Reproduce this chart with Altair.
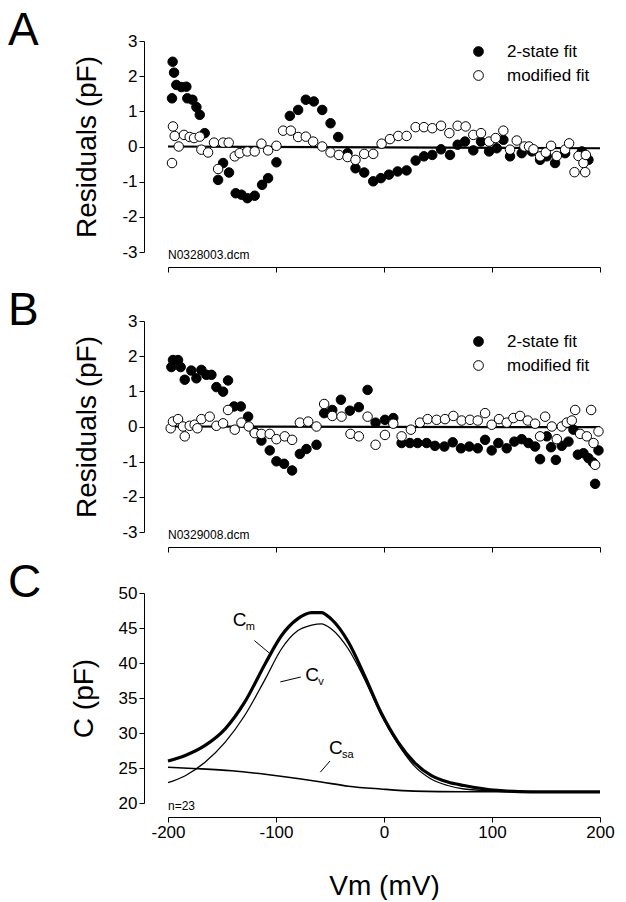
import pandas as pd
import altair as alt

FONT = "Liberation Sans"

# Panel A residuals (mV, pF)
a_fit2_v = [-196.3, -195.7, -194.4, -192.3, -187.6, -183.0, -182.1, -177.4, -173.7, -170.6, -166.0,
            -153.6, -149.0, -143.5, -137.3, -132.0, -126.5, -119.7, -112.9, -107.3, -99.6, -87.2,
            -79.5, -72.4, -65.0, -57.2, -49.5, -42.4, -33.8, -26.4, -18.3, -10.0, -2.9, 4.6, 12.6,
            20.9, 29.3, 37.0, 44.7, 52.8, 61.1, 68.2, 75.0, 82.7, 89.8, 97.3, 104.4, 110.5, 116.7,
            127.5, 136.8, 144.5, 150.7, 158.4, 167.7, 183.2, 189.3]
a_fit2_r = [1.37, 2.41, 2.10, 1.75, 1.69, 1.70, 1.37, 1.33, 1.12, 0.90, 0.38,
            -0.95, -0.47, -0.74, -1.33, -1.37, -1.47, -1.40, -1.09, -0.90, -0.45, 0.87,
            1.04, 1.33, 1.28, 1.04, 0.66, 0.27, -0.19, -0.62, -0.74, -0.99, -0.90, -0.80, -0.71,
            -0.68, -0.40, -0.28, -0.24, -0.08, -0.24, 0.05, 0.14, -0.11, 0.14, -0.14, -0.05, 0.19, -0.28,
            -0.19, -0.14, -0.38, -0.28, -0.47, -0.19, -0.14, -0.38]
a_mod_v = [-196.3, -195.4, -193.8, -190.1, -185.2, -179.9, -175.9, -170.6, -169.1, -162.9, -157.4,
           -153.6, -149.0, -143.8, -138.2, -133.6, -126.5, -119.7, -113.5, -107.3, -99.6, -93.4,
           -86.3, -79.5, -72.4, -65.6, -57.2, -49.5, -41.8, -33.8, -26.4, -18.3, -10.0, -2.2, 5.5,
           13.2, 20.9, 29.3, 37.0, 44.7, 52.8, 60.5, 68.2, 75.6, 82.7, 89.8, 97.3, 103.4, 110.5,
           116.7, 122.9, 130.0, 134.3, 138.4, 144.5, 149.8, 154.7, 160.0, 167.7, 171.4, 176.4,
           180.1, 184.7, 186.3, 186.9]
a_mod_r = [-0.47, 0.57, 0.30, 0.00, 0.33, 0.27, 0.24, 0.28, -0.09, -0.17, 0.11,
           -0.64, 0.11, 0.11, -0.28, -0.19, -0.14, -0.14, 0.08, -0.11, 0.02, 0.45,
           0.45, 0.27, 0.28, 0.14, 0.00, -0.17, -0.24, -0.30, -0.38, -0.21, -0.21, 0.08, 0.21,
           0.30, 0.30, 0.55, 0.55, 0.52, 0.59, 0.38, 0.59, 0.57, 0.33, 0.38, 0.14, 0.24, 0.45,
           -0.09, 0.17, 0.00, 0.00, -0.08, -0.28, -0.17, 0.02, -0.27, -0.09, 0.09, -0.73,
           -0.27, -0.47, -0.73, -0.24]

# Panel B residuals
b_fit2_v = [-196.9, -195.4, -190.7, -188.3, -184.5, -178.4, -173.7, -169.1, -164.5, -159.8, -155.2,
            -149.0, -144.4, -138.8, -132.6, -125.8, -119.7, -113.5, -105.8, -99.6, -92.5, -85.1,
            -77.9, -71.8, -62.5, -55.4, -47.9, -39.9, -31.6, -23.3, -15.2, -7.8, 0.9, 8.6, 16.3,
            24.0, 31.1, 39.5, 47.2, 55.9, 63.6, 71.3, 79.0, 86.8, 93.6, 99.7, 105.9, 113.6, 120.7,
            127.5, 133.7, 139.9, 144.5, 150.7, 154.7, 159.1, 164.6, 170.8, 175.4, 179.5, 184.7,
            189.3, 193.4, 198.6, 195.5]
b_fit2_r = [1.69, 1.89, 1.89, 1.69, 1.33, 1.59, 1.37, 1.61, 1.47, 1.47, 1.12,
            0.99, 1.31, 0.57, 0.57, 0.28, -0.17, -0.40, -0.68, -0.99, -1.06, -1.25,
            -0.78, -0.64, -0.52, 0.38, 0.47, 0.76, 0.45, 0.55, 1.04, 0.11, 0.19, 0.24, -0.47,
            -0.47, -0.47, -0.47, -0.55, -0.57, -0.45, -0.62, -0.57, -0.62, -0.38, -0.68, -0.47, -0.62, -0.43,
            -0.36, -0.47, -0.57, -0.93, -0.28, -0.59, -0.95, -0.55, -0.43, -0.09, -0.80, -0.76,
            -0.90, -1.02, -0.68, -1.63]
b_mod_v = [-197.5, -195.4, -190.7, -186.1, -184.5, -179.9, -175.3, -172.8, -169.1, -161.4, -155.2,
           -149.0, -144.4, -138.2, -132.0, -125.2, -119.7, -113.5, -105.8, -99.6, -91.9, -85.1,
           -77.9, -70.2, -62.5, -55.4, -47.9, -39.3, -31.0, -23.3, -15.2, -7.8, 0.9, 8.6, 16.3,
           24.9, 33.3, 40.4, 48.7, 56.5, 64.2, 71.9, 79.6, 86.8, 93.6, 99.7, 106.5, 113.6, 119.8,
           126.0, 133.1, 139.9, 144.5, 149.2, 155.4, 160.0, 164.6, 169.3, 173.9, 177.0, 181.6,
           187.8, 191.8, 194.0, 195.5, 198.6]
b_mod_r = [-0.05, 0.14, 0.21, 0.00, -0.28, 0.02, 0.05, -0.05, 0.21, 0.28, 0.02,
           0.09, 0.47, -0.09, 0.11, 0.00, -0.19, -0.21, -0.21, -0.36, -0.28, -0.38,
           0.11, 0.14, 0.00, 0.64, 0.30, 0.28, -0.21, -0.28, 0.28, -0.52, -0.24, 0.08, -0.28,
           -0.09, 0.11, 0.21, 0.19, 0.21, 0.30, 0.17, 0.19, 0.17, 0.38, 0.05, 0.21, 0.11, 0.24,
           0.30, 0.17, 0.08, -0.28, 0.28, 0.00, -0.36, 0.00, 0.11, 0.17, 0.47, -0.21,
           -0.28, 0.47, -0.47, -1.09, -0.14]

zero_v = [-200, 200]
a_zero = [0.0, -0.05]
b_zero = [0.0, -0.02]

# Panel C capacitance curves
c_v = [-200, -184, -166, -147, -129, -110, -95, -80, -67, -58, -49, -33, -18, -3, 13, 28, 44, 59,
       74, 105, 136, 167, 200]
c_m = [26.0, 26.8, 28.2, 30.6, 34.4, 39.9, 43.9, 46.3, 47.2, 47.2, 46.3, 43.0, 38.2, 33.0, 28.7,
       25.8, 23.9, 23.0, 22.5, 21.8, 21.6, 21.6, 21.6]
c_vv = [22.9, 23.9, 25.8, 28.7, 32.5, 37.7, 42.0, 44.6, 45.4, 45.6, 44.9, 42.0, 37.7, 32.7, 28.4,
        25.3, 23.4, 22.5, 22.0, 21.7, 21.6, 21.6, 21.6]
csa_v = [-200, -172, -141, -110, -80, -58, -33, -3, 28, 74, 136, 200]
csa = [25.1, 24.9, 24.6, 24.1, 23.5, 23.0, 22.4, 22.0, 21.7, 21.6, 21.6, 21.6]

labels = ["C", "C", "C"]
subs = ["m", "v", "sa"]
label_v = [-140, -73, -51]
label_c = [45.3, 37.4, 27.0]
# leader lines: start and end of each
lead_id = ["m", "m", "v", "v", "sa", "sa"]
lead_v = [-120, -106, -96, -77, -59, -50]
lead_c = [43.2, 41.4, 37.3, 38.0, 24.4, 26.0]

series = ["2-state fit", "modified fit"]

AXIS = dict(tickSize=5, grid=False, labelFontSize=17, titleFontSize=28, titleFontWeight="normal",
            domainColor="black", tickColor="black", labelOverlap=False, labelFlush=False,
            labelExpr="'' + datum.value")

X = alt.X("v:Q", title=None, scale=alt.Scale(domain=[-200, 200], nice=False, zero=False),
          axis=alt.Axis(values=[-200, -100, 0, 100, 200], labels=False, offset=15, tickSize=5,
                        domainColor="black", tickColor="black", grid=False))


def letter_mark(letter):
    return alt.Chart(pd.DataFrame({"t": [letter]})).mark_text(
        align="left", baseline="top", fontSize=46, font=FONT).encode(
        x=alt.value(-160), y=alt.value(-32), text="t:N")


def residual_panel(letter, fname, f2v, f2r, mv, mr, zline, legend_y):
    df = pd.concat([
        pd.DataFrame({"v": f2v, "r": f2r, "s": series[0]}),
        pd.DataFrame({"v": mv, "r": mr, "s": series[1]}),
    ])
    y = alt.Y("r:Q", title="Residuals (pF)", scale=alt.Scale(domain=[-3, 3], nice=False),
              axis=alt.Axis(values=[-3, -2, -1, 0, 1, 2, 3], offset=24, titlePadding=20, **AXIS))
    zero = alt.Chart(pd.DataFrame({"v": zero_v, "r": zline})).mark_line(
        color="black", strokeWidth=2.2).encode(x=X, y=y)
    pts = alt.Chart(df).mark_point(filled=True, size=90, stroke="black", strokeWidth=1, opacity=1).encode(
        x=X, y=y,
        fill=alt.Fill("s:N", scale=alt.Scale(domain=series, range=["black", "white"]),
                      legend=alt.Legend(title=None, orient="none", legendX=302, legendY=legend_y,
                                        symbolType="circle", symbolSize=95, symbolStrokeColor="black",
                                        symbolStrokeWidth=1, labelFontSize=17, labelFont=FONT,
                                        labelColor="black", labelOffset=20, rowPadding=6)),
    )
    note = alt.Chart(pd.DataFrame({"t": [fname]})).mark_text(
        align="left", baseline="alphabetic", fontSize=12, font=FONT).encode(
        x=alt.value(0), y=alt.value(218), text="t:N")
    return alt.layer(zero, pts, note, letter_mark(letter)).properties(width=432, height=211)


pa = residual_panel("A", "N0328003.dcm", a_fit2_v, a_fit2_r, a_mod_v, a_mod_r, a_zero, 2)
pb = residual_panel("B", "N0329008.dcm", b_fit2_v, b_fit2_r, b_mod_v, b_mod_r, b_zero, 12)

# Panel C
yc = alt.Y("c:Q", title="C (pF)", scale=alt.Scale(domain=[20, 50], nice=False, zero=False),
           axis=alt.Axis(values=[20, 25, 30, 35, 40, 45, 50], offset=24, titlePadding=20, **AXIS))
xc = alt.X("v:Q", title="Vm (mV)", scale=alt.Scale(domain=[-200, 200], nice=False, zero=False),
           axis=alt.Axis(values=[-200, -100, 0, 100, 200], offset=14, titlePadding=32, **AXIS))
cm_line = alt.Chart(pd.DataFrame({"v": c_v, "c": c_m})).mark_line(
    color="black", strokeWidth=3.2, interpolate="monotone").encode(x=xc, y=yc)
cv_line = alt.Chart(pd.DataFrame({"v": c_v, "c": c_vv})).mark_line(
    color="black", strokeWidth=1.3, interpolate="monotone").encode(x=xc, y=yc)
csa_line = alt.Chart(pd.DataFrame({"v": csa_v, "c": csa})).mark_line(
    color="black", strokeWidth=1.6, interpolate="monotone").encode(x=xc, y=yc)
lab_df = pd.DataFrame({"v": label_v, "c": label_c, "t": labels, "s": subs})
lab_c = alt.Chart(lab_df).mark_text(align="left", baseline="alphabetic", fontSize=19, font=FONT).encode(
    x=xc, y=yc, text="t:N")
lab_s = alt.Chart(lab_df).mark_text(align="left", baseline="alphabetic", fontSize=11, font=FONT,
                                    dx=13, dy=4).encode(x=xc, y=yc, text="s:N")
leads = alt.Chart(pd.DataFrame({"v": lead_v, "c": lead_c, "id": lead_id})).mark_line(
    color="black", strokeWidth=1).encode(x=xc, y=yc, detail="id:N")
nlab = alt.Chart(pd.DataFrame({"t": ["n=23"]})).mark_text(
    align="left", baseline="alphabetic", fontSize=12, font=FONT).encode(
    x=alt.value(0), y=alt.value(217), text="t:N")
pc = alt.layer(cm_line, cv_line, csa_line, lab_c, lab_s, leads, nlab, letter_mark("C")).properties(
    width=432, height=210)

top = alt.vconcat(pa, pb, spacing=15).resolve_scale(fill="independent").resolve_legend(fill="independent")
chart = alt.vconcat(top, pc, spacing=7).resolve_scale(fill="independent").resolve_legend(
    fill="independent").properties(padding={"top": 0, "left": 0, "right": 0, "bottom": 0}).configure(
    font=FONT).configure_view(strokeWidth=0).configure_axis(labelFont=FONT, titleFont=FONT,
                                                           labelColor="black", titleColor="black")

chart.save("out.html", embed_options={"renderer": "svg", "actions": False})
